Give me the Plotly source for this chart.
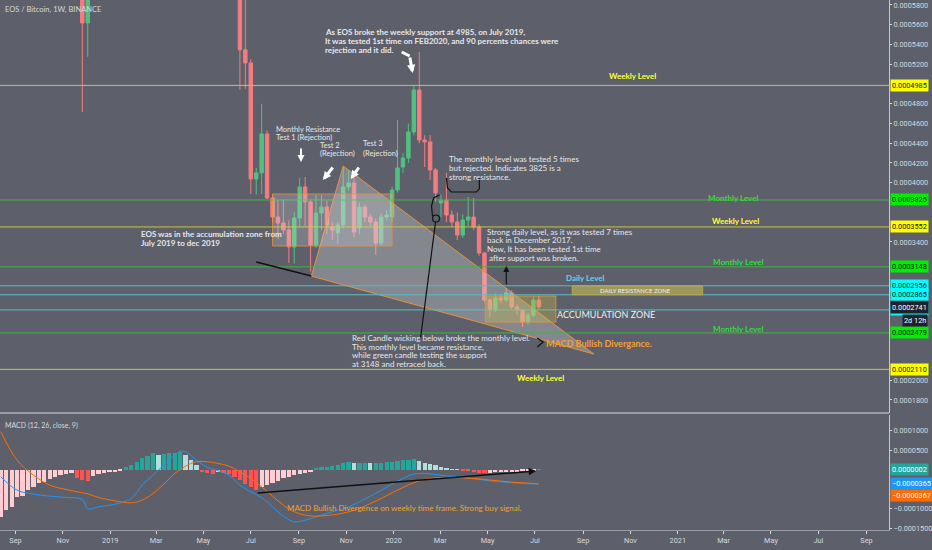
import pandas as pd
import plotly.graph_objects as go

U = 1e-7  # prices and MACD values below are in units of 0.0000001 BTC

# two old weekly candles that dip into view (Nov/Dec 2018)
early_dates = ["2018-11-26", "2018-12-03"]
early_open = [6400, 5618]
early_high = [6600, 6500]
early_low = [4716, 5274]
early_close = [5618, 6300]

# weekly candles from 2019-06-17 to 2020-07-06
week_start = "2019-06-17"
opens = [6050, 5345, 5213, 4038, 4099, 4494, 3845, 3653, 3592, 3521, 3349, 3643, 3957, 3805, 3369, 3693,
         3754, 3552, 3491, 3572, 3957, 3997, 3541, 3754, 3653, 3602, 3389, 3653, 3653, 3926, 4159, 4250,
         4514, 4939, 4433, 4413, 4129, 3795, 3825, 3673, 3602, 3470, 3622, 3653, 3552, 3288, 2812, 2711,
         2832, 2812, 2883, 2741, 2711, 2589, 2660, 2812]
highs = [6200, 5900, 5250, 4150, 4798, 4530, 3880, 3825, 3830, 3620, 3700, 4048, 4058, 3830, 3880, 3876,
         3820, 3600, 3600, 4159, 4129, 4048, 3800, 3780, 3680, 3640, 3690, 3720, 3960, 4635, 4300, 4600,
         4980, 5324, 4480, 4483, 4150, 3880, 4099, 3720, 3700, 3680, 3855, 3845, 3580, 3300, 2830, 2880,
         2870, 2930, 2910, 2770, 2720, 2680, 2850, 2860]
lows = [4940, 4950, 3886, 3880, 3886, 3830, 3600, 3430, 3480, 3187, 3180, 3552, 3560, 3100, 3340, 3520,
        3480, 3420, 3380, 3540, 3920, 3450, 3480, 3600, 3560, 3268, 3360, 3620, 3600, 3900, 4100, 4200,
        4480, 4400, 4159, 4028, 3805, 3650, 3600, 3550, 3420, 3440, 3560, 3520, 3260, 2790, 2640, 2690,
        2780, 2790, 2720, 2660, 2539, 2560, 2640, 2720]
closes = [5345, 5213, 4038, 4099, 4494, 3845, 3653, 3592, 3521, 3349, 3643, 3957, 3805, 3369, 3693, 3754,
          3572, 3521, 3572, 3957, 3997, 3501, 3754, 3653, 3602, 3389, 3653, 3673, 3926, 4149, 4250, 4514,
          4939, 4433, 4413, 4129, 3896, 3825, 3673, 3602, 3470, 3622, 3653, 3552, 3288, 2812, 2711, 2832,
          2812, 2883, 2741, 2711, 2589, 2660, 2812, 2741]

# MACD (12, 26, close, 9), weekly from 2018-08-13
hist_start = "2018-08-13"
hist = [-1228, -1039, -953, -713, -679, -524, -438, -352, -309, -240,
        -180, -146, -120, -94, -223, -266, -292, -163, -120, -77,
        -60, -52, -26, 60, 120, 206, 292, 352, 421, 378,
        404, 421, 438, 455, 378, 249, 120, -52, -94, -120,
        -60, -77, -112, -180, -266, -369, -455, -524, -455, -395,
        -335, -283, -223, -180, -146, -112, -86, -60, 52, 60,
        77, 103, 129, 163, 189, 163, 163, 180, 163, 163,
        180, 189, 206, 223, 240, 258, 266, 232, 180, 146,
        112, 77, 43, 17, 3, -17, -34, -60, -77, -94,
        -77, -69, -60, -60, -52, -52, -43, -43, -34, 2]
line_weeks = [0, 3, 6, 9, 12, 15, 16, 18, 21, 24, 26, 28, 30, 32, 33, 34, 36, 38, 40, 42,
              44, 46, 48, 50, 52, 54, 56, 58, 60, 62, 64, 66, 68, 70, 72, 74, 76, 78, 80, 82,
              84, 86, 88, 90, 92, 94, 96, 98, 99]
macd_line = [-180, -524, -627, -679, -713, -765, -1005, -953, -885, -739, -395, -137, 120, 378, 472, 464,
             249, 60, -26, -137, -395, -567, -713, -953, -1194, -1340, -1297, -1211, -1125, -1039, -953,
             -825, -679, -524, -369, -223, -112, -94, -120, -155, -180, -215, -249, -283, -309, -335,
             -352, -361, -365]
signal_line = [979, 249, -137, -395, -507, -593, -620, -713, -799, -850, -782, -610, -369, -94, 0, 94,
               206, 206, 163, 94, -52, -223, -438, -679, -911, -1082, -1168, -1194, -1177, -1142, -1082,
               -996, -868, -739, -593, -455, -335, -249, -206, -198, -198, -215, -232, -266, -292, -318,
               -335, -352, -367]

# horizontal levels drawn on the chart
levels = [4985, 3825, 3552, 3148, 2956, 2865, 2712, 2479, 2110]
level_kind = ["weekly", "monthly", "weekly", "monthly", "daily", "daily", "daily", "monthly", "weekly"]
last_price = 2741

price_ticks = [5800, 5600, 5400, 5200, 4800, 4600, 4400, 4200, 4000, 3400, 2000, 1800]
macd_ticks = [1000, 500, -1000, -1500]
tick_dates = pd.date_range("2018-09-01", "2021-09-01", freq="2MS")
tick_text = ["Sep", "Nov", "2019", "Mar", "May", "Jul", "Sep", "Nov", "2020", "Mar", "May", "Jul",
             "Sep", "Nov", "2021", "Mar", "May", "Jul", "Sep"]

BG = "#5d606b"
TXT = "#e6e7ea"
AX = "#d6d8de"
line_col = {"weekly": "#c9c53c", "monthly": "#46b04c", "daily": "#55bfcc"}
label_bg = {"weekly": "#ffff00", "monthly": "#00ee00", "daily": "#00ffff"}

dates = list(pd.to_datetime(early_dates)) + list(pd.date_range(week_start, periods=len(opens), freq="7D"))
hist_dates = pd.date_range(hist_start, periods=len(hist), freq="7D")
line_dates = [hist_dates[i] for i in line_weeks]

fig = go.Figure()

# wedge drawing (grey triangle with orange border)
fig.add_trace(go.Scatter(
    x=["2019-10-28", "2019-09-17", "2020-09-15", "2019-10-28"],
    y=[4169 * U, 3055 * U, 2265 * U, 4169 * U],
    mode="lines", fill="toself", fillcolor="rgba(215,215,220,0.33)",
    line=dict(color="#e6913c", width=1), hoverinfo="skip", showlegend=False))

fig.add_trace(go.Candlestick(
    x=dates,
    open=[v * U for v in early_open + opens],
    high=[v * U for v in early_high + highs],
    low=[v * U for v in early_low + lows],
    close=[v * U for v in early_close + closes],
    increasing=dict(line=dict(color="#52c17f", width=1), fillcolor="#52c17f"),
    decreasing=dict(line=dict(color="#f47c80", width=1), fillcolor="#f47c80"),
    whiskerwidth=0, showlegend=False))

# MACD pane
hist_colors = []
for i, v in enumerate(hist):
    prev = hist[i - 1] if i else v
    if v >= 0:
        hist_colors.append("#26a69a" if v >= prev else "#b2dfdb")
    else:
        hist_colors.append("#ff5252" if v < prev else "#ffcdd2")
fig.add_trace(go.Bar(x=hist_dates, y=[v * U for v in hist], marker_color=hist_colors,
                     marker_line_width=0, width=7 * 86400000 * 0.78,
                     xaxis="x2", yaxis="y2", showlegend=False))
fig.add_trace(go.Scatter(x=line_dates, y=[v * U for v in macd_line], mode="lines",
                         line=dict(color="#2196f3", width=1, shape="spline"),
                         xaxis="x2", yaxis="y2", showlegend=False))
fig.add_trace(go.Scatter(x=line_dates, y=[v * U for v in signal_line], mode="lines",
                         line=dict(color="#ff6d00", width=1, shape="spline"),
                         xaxis="x2", yaxis="y2", showlegend=False))

W, H = 892, 530


def px(x, y):
    return dict(xref="paper", yref="paper", x=x / W, y=1 - y / H)


shapes = []
for lv, kind in zip(levels, level_kind):
    shapes.append(dict(type="line", xref="paper", x0=0, x1=1, yref="y", y0=lv * U, y1=lv * U,
                       line=dict(color=line_col[kind], width=1), layer="above"))

# boxes
shapes.append(dict(type="rect", xref="x", yref="y", x0="2019-07-29", x1="2019-12-30",
                   y0=3359 * U, y1=3886 * U, fillcolor="rgba(210,210,215,0.25)",
                   line=dict(color="rgba(230,145,60,0.8)", width=1), layer="above"))
shapes.append(dict(type="rect", xref="x", yref="y", x0="2020-04-28", x1="2020-07-28",
                   y0=2589 * U, y1=2852 * U, fillcolor="rgba(200,185,80,0.35)",
                   line=dict(color="rgba(230,150,50,0.8)", width=1), layer="above"))
shapes.append(dict(type="rect", xref="x", yref="y", x0="2020-08-18", x1="2021-02-02",
                   y0=2865 * U, y1=2956 * U, fillcolor="rgba(185,175,90,0.7)",
                   line=dict(color="#b8a848", width=1), layer="above"))
# trendline extension
shapes.append(dict(type="line", xref="x", yref="y", x0="2019-07-08", x1="2019-09-17",
                   y0=3197 * U, y1=3055 * U, line=dict(color="#111111", width=1.5), layer="above"))


def seg(points, width=1.2, color="#111111"):
    d = "M " + " L ".join(f"{x / W:.4f},{1 - y / H:.4f}" for x, y in points)
    return dict(type="path", xref="paper", yref="paper", path=d,
                line=dict(color=color, width=width), layer="above")


# hand drawn marks
shapes.append(seg([(448, 178), (449, 188), (453, 192), (478, 192), (481, 189), (481, 177)]))
shapes.append(seg([(441, 195), (435, 198), (433, 206), (434, 216)]))
shapes.append(seg([(422, 338), (437, 222)]))
shapes.append(dict(type="circle", xref="paper", yref="paper", x0=434 / W, x1=441 / W,
                   y0=1 - 222 / H, y1=1 - 215 / H, line=dict(color="#111111", width=1.2)))
shapes.append(seg([(539, 338), (545, 342), (539, 347)]))
shapes.append(seg([(403, 52), (411, 56)], width=3, color="white"))
# pane separator
shapes.append(dict(type="line", xref="paper", yref="paper", x0=0, x1=1, y0=1 - 413 / H, y1=1 - 413 / H,
                   line=dict(color="#9a9da5", width=2)))

ann = []


def text(x, y, lines, size=8, color=TXT, bold=False, anchor="left", step=9):
    for k, s in enumerate(lines):
        t = f"<b>{s}</b>" if bold else s
        a = px(x, y + k * step)
        a.update(text=t, showarrow=False, xanchor=anchor, yanchor="middle", align="left",
                 font=dict(family="Lato", size=size, color=color))
        ann.append(a)


def arrow(hx, hy, tx, ty, color="white", width=2, size=1.0):
    a = px(hx, hy)
    a.update(text="", showarrow=True, ax=tx - hx, ay=ty - hy, arrowhead=2, arrowsize=size,
             arrowwidth=width, arrowcolor=color)
    ann.append(a)


text(3, 10, ["EOS / Bitcoin, 1W, BINANCE"], size=7.5, color=AX)
text(324, 32, ["As EOS broke the weekly support at 4985, on July 2019,",
               "It was tested 1st time on FEB2020, and 90 percents chances were",
               "rejection and it did."], bold=True)
text(275, 129, ["Monthly Resistance", "Test 1 (Rejection)"], size=7.5)
text(319, 145, ["Test 2", "(Rejection)"], size=7.5)
text(362, 144, ["Test 3", "(Rejection)"], size=7.5)
text(449, 159, ["The monthly level was tested 5 times", "but rejected. Indicates 3825 is a",
                "strong resistance."])
text(487, 232, ["Strong daily level, as it was tested 7 times", "back in December 2017.",
                "Now, It has been tested 1st time", " after support was broken."], step=8.5)
text(139, 234, ["EOS was in the accumulation zone from", "July 2019 to dec 2019"], bold=True)
text(351, 338, ["Red Candle wicking below broke the monthly level.", "This monthly level became resistance,",
                "while green candle testing the support", "at 3148 and retraced back."], step=8.7)
text(635, 76, ["Weekly Level"], color="#ffff33", bold=True, anchor="center")
text(735, 198, ["Monthly Level"], color="#33dd33", bold=True, anchor="center")
text(738, 221, ["Weekly Level"], color="#ffff33", bold=True, anchor="center")
text(740, 262, ["Monthly Level"], color="#33dd33", bold=True, anchor="center")
text(587, 278, ["Daily Level"], color="#5fd6e6", bold=True, anchor="center")
text(638, 290, ["DAILY RESISTANCE ZONE"], size=6, color="#f0f0f0", anchor="center")
text(557, 314, ["ACCUMULATION ZONE"], size=9, color="#f0f0f0")
text(740, 329, ["Monthly Level"], color="#33dd33", bold=True, anchor="center")
text(546, 343, ["MACD Bullish Divergance."], size=9, color="#f0a030", bold=True)
text(542, 378, ["Weekly Level"], color="#ffff33", bold=True, anchor="center")
text(3, 425, ["MACD (12, 26, close, 9)"], size=7, color=AX)
text(286, 508, ["MACD Bullish Divergence on weekly time frame. Strong buy signal."], size=8, color="#f0a030")

arrow(302, 162, 302, 147, size=0.7)
arrow(324, 180, 335, 166, width=3, size=0.55)
arrow(352, 179, 361, 166, width=3, size=0.55)
arrow(414, 73, 411, 56, width=3, size=0.55)
arrow(508, 266, 508, 286, color="#111111", width=1.2)
arrow(538, 471, 258, 493, color="#111111", width=1.5)

# price-scale labels
lab_font = dict(family="Roboto", size=7.3, color="#111111")
for lv, kind in zip(levels, level_kind):
    ann.append(dict(xref="paper", yref="y", x=1, y=lv * U, xanchor="left", yanchor="middle",
                    text=f"{lv * U:.7f}", showarrow=False, bgcolor=label_bg[kind], borderpad=1,
                    font=lab_font, xshift=1))
ann.append(dict(xref="paper", yref="y", x=1, y=last_price * U, xanchor="left", yanchor="middle",
                text=f"{last_price * U:.7f}", showarrow=False, bgcolor="#1e222d", borderpad=1,
                font=dict(family="Roboto", size=7.3, color="white"), xshift=1))
ann.append(dict(xref="paper", yref="y", x=1, y=last_price * U, xanchor="left", yanchor="middle",
                text="2d 12h", showarrow=False, bgcolor="#1e222d", borderpad=1,
                font=dict(family="Roboto", size=7.3, color="white"), xshift=13, yshift=-13))
for val, col, shift in [(hist[-1], "#26a69a", 0), (macd_line[-1], "#2196f3", 0), (signal_line[-1], "#ff6d00", -11)]:
    ann.append(dict(xref="paper", yref="y2", x=1, y=val * U, xanchor="left", yanchor="middle",
                    text=f"{val * U:.7f}".replace("-", "\u2212"), showarrow=False, bgcolor=col,
                    borderpad=1, font=dict(family="Roboto", size=7.3, color="white"),
                    xshift=1, yshift=shift))

tick_font = dict(family="Roboto", size=7.3, color=AX)
fig.update_layout(
    width=932, height=550,
    margin=dict(l=0, r=40, t=0, b=20),
    paper_bgcolor=BG, plot_bgcolor=BG,
    shapes=shapes, annotations=ann,
    bargap=0, boxgap=0.1,
    xaxis=dict(domain=[0, 1], anchor="y", range=["2018-08-12", "2021-09-30"], showticklabels=False,
               showgrid=False, zeroline=False, rangeslider=dict(visible=False)),
    xaxis2=dict(domain=[0, 1], anchor="y2", matches="x", tickvals=tick_dates, ticktext=tick_text,
                ticks="outside", ticklen=3, tickcolor=AX, tickfont=tick_font,
                showgrid=False, zeroline=False, showline=True, linecolor="#9a9da5", linewidth=1),
    yaxis=dict(domain=[117 / H, 1], anchor="x", side="right", range=[1668 * U, 5850 * U],
               tickvals=[v * U for v in price_ticks], tickformat=".7f", ticks="outside", ticklen=2,
               tickcolor=AX, tickfont=tick_font,
               showgrid=False, zeroline=False, showline=True, linecolor="#c8cad0", linewidth=1),
    yaxis2=dict(domain=[0, 115 / H], anchor="x2", side="right", range=[-1550 * U, 1410 * U],
                tickvals=[v * U for v in macd_ticks], tickformat=".7f", ticks="outside", ticklen=2,
                tickcolor=AX, tickfont=tick_font,
                showgrid=False, zeroline=False, showline=True, linecolor="#c8cad0", linewidth=1),
)

fig.write_html("out.html", config={"displayModeBar": False},
               post_script="document.body.style.margin='0';document.body.style.overflow='hidden';")
